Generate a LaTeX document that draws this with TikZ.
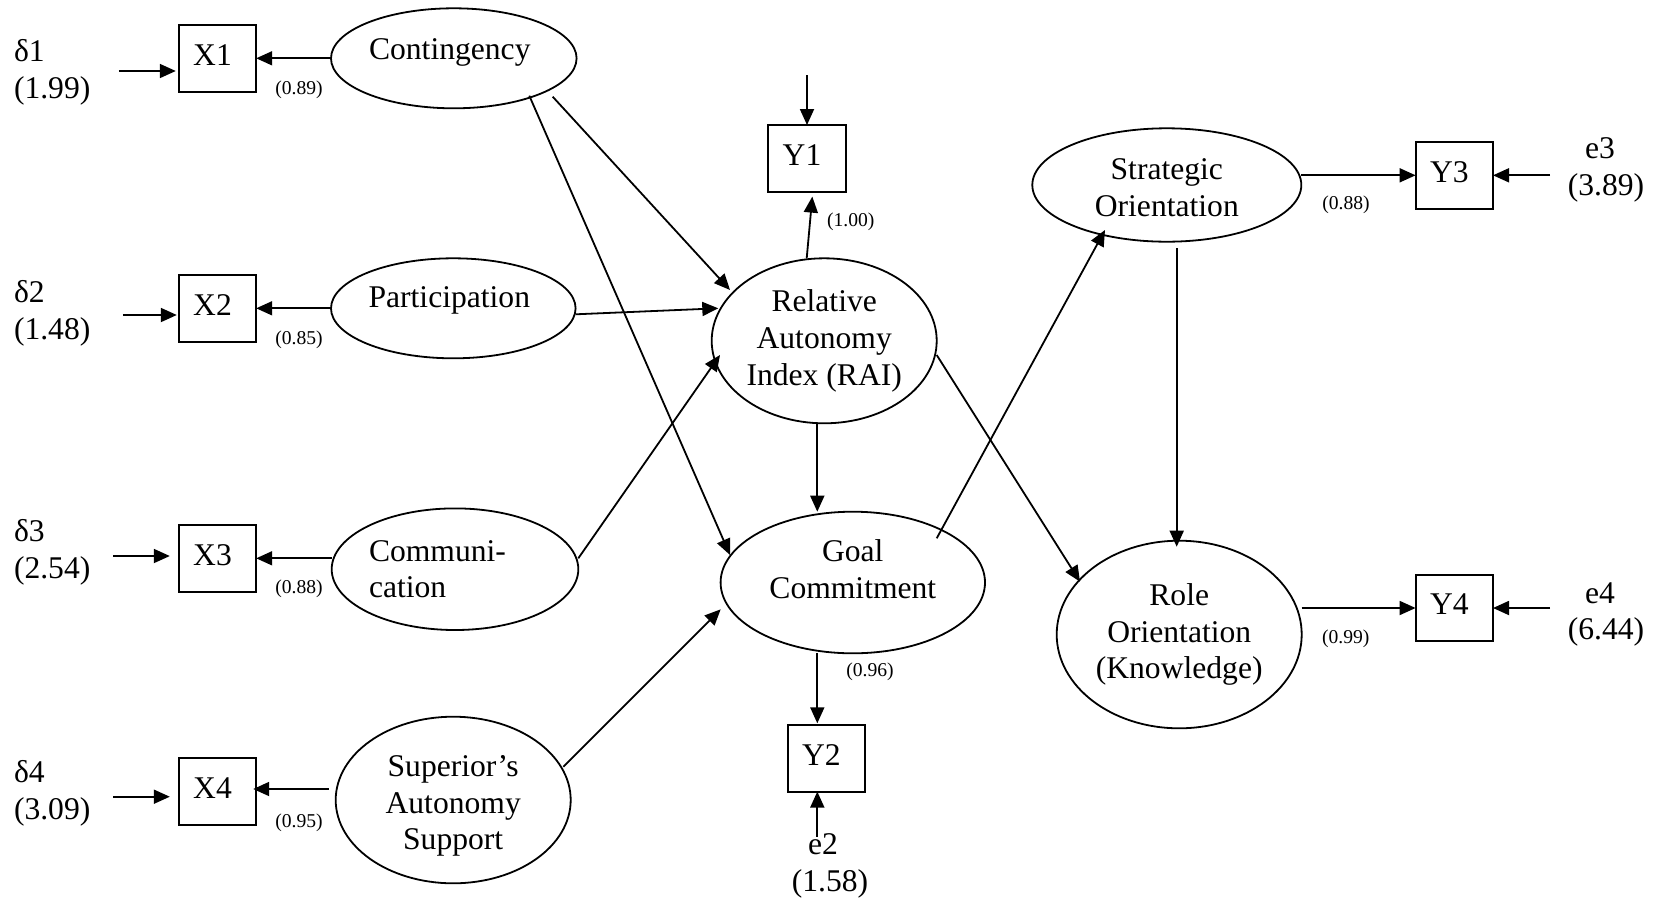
\documentclass[tikz,border=0pt]{standalone}
\usepackage{fontspec}
\setmainfont{Liberation Serif}
\usetikzlibrary{arrows.meta,calc,shapes.geometric}

\begin{document}
\begin{tikzpicture}[x=0.5pt, y=-0.5pt,
  every node/.style={inner sep=0pt, outer sep=0pt},
  txt/.style={font=\fontsize{15.8}{18.4}\selectfont},
  coef/.style={font=\fontsize{9.8}{11}\selectfont},
  obs/.style={draw, line width=0.95pt, minimum width=38.7pt, minimum height=33.3pt,
              txt, text depth=0.35em, execute at end node={\kern5pt}},
  latent/.style 2 args={draw, ellipse, line width=0.9pt,
              minimum width=#1pt, minimum height=#2pt},
  arr/.style={line width=0.9pt, -{Triangle[length=8pt,width=7pt]}},
]
\useasboundingbox (0,0) rectangle (1658,900);

% observed indicators
\node[obs] (x1) at (217.5,58.3)  {X1};
\node[obs] (x2) at (217.5,308.3) {X2};
\node[obs] (x3) at (217.5,558.3) {X3};
\node[obs] (x4) at (217.5,791.7) {X4};
\node[obs] (y1) at (807,158.3)   {Y1};
\node[obs] (y2) at (826.3,758.3) {Y2};
\node[obs] (y3) at (1454.3,175.3) {Y3};
\node[obs] (y4) at (1454.3,608)   {Y4};

% latent constructs
\node[latent={122.8}{50},
      label={[txt,xshift=-2pt,yshift=2.8pt]center:Contingency}] (cont) at (453.8,58.3) {};
\node[latent={122.3}{50},
      label={[txt,xshift=-2pt,yshift=3.85pt]center:Participation}] (part) at (453.3,308.3) {};
\node[latent={123.3}{60.8},
      label={[txt,align=left,xshift=-8.75pt]center:{Communi-\\cation}}] (comm) at (455,569.2) {};
\node[latent={117.5}{83.3},
      label={[txt,align=center,yshift=-3pt]center:{Superior’s\\Autonomy\\Support}}] (sup) at (453.2,800) {};
\node[latent={112.5}{82.5},
      label={[txt,align=center]center:{Relative\\Autonomy\\Index (RAI)}}] (rai) at (824.2,340.8) {};
\node[latent={132.2}{70.8},
      label={[txt,align=center,yshift=6.5pt]center:{Goal\\Commitment}}] (goal) at (852.8,582.5) {};
\node[latent={134.5}{56.7},
      label={[txt,align=center,yshift=-1.5pt]center:{Strategic\\Orientation}}] (strat) at (1166.8,185) {};
\node[latent={122.5}{93.8},
      label={[txt,align=center]center:{Role\\Orientation\\(Knowledge)}}] (role) at (1179.2,634.5) {};

% error terms
\node[txt, align=left, anchor=west] (d1) at (14,72)    {δ1\\(1.99)};
\node[txt, align=left, anchor=west] (d2) at (14,313.6) {δ2\\(1.48)};
\node[txt, align=left, anchor=west] (d3) at (14,552)   {δ3\\(2.54)};
\node[txt, align=left, anchor=west] (d4) at (14,793.6) {δ4\\(3.09)};
\node[txt, align=center] (e2l) at (830,865.5)  {e2\kern7pt\\(1.58)};
\node[txt, align=center] (e3l) at (1606,169.8) {e3\kern6pt\\(3.89)};
\node[txt, align=center] (e4l) at (1606,614.5) {e4\kern6pt\\(6.44)};

% loadings
\node[coef] (c1) at (299,90)       {(0.89)};
\node[coef] (c2) at (299,340)      {(0.85)};
\node[coef] (c3) at (299,588.3)    {(0.88)};
\node[coef] (c4) at (299,822.3)    {(0.95)};
\node[coef] (c5) at (850.7,221.7)  {(1.00)};
\node[coef] (c6) at (870,671.7)    {(0.96)};
\node[coef] (c7) at (1346,205)     {(0.88)};
\node[coef] (c8) at (1345.7,638.3) {(0.99)};

% error arrows into indicators
\draw[arr] ($(x1.west)+(-60,12.7)$) -- ($(x1.west)+(-3,12.7)$);
\draw[arr] ($(x2.west)+(-56,6.7)$)  -- ($(x2.west)+(-2,6.7)$);
\draw[arr] ($(x3.west)+(-65.5,-2.3)$) -- ($(x3.west)+(-9,-2.3)$);
\draw[arr] ($(x4.west)+(-65.5,5)$)  -- ($(x4.west)+(-9,5)$);
\draw[arr] ($(y1.north)+(0,-50)$) -- (y1.north);
\draw[arr] ($(y2.south)+(-9,45)$) -- ($(y2.south)+(-9,0)$);
\draw[arr] ($(y3.east)+(57,0)$) -- (y3.east);
\draw[arr] ($(y4.east)+(57,0)$) -- (y4.east);

% measurement paths
\draw[arr] (cont.west) -- (x1.east);
\draw[arr] (part.west) -- (x2.east);
\draw[arr] (comm.west |- x3) -- (x3.east);
\draw[arr] ($(sup.west |- x4)+(-7,-2.7)$) -- ($(x4.east)+(-3,-2.7)$);
\draw[arr] ($(rai.north)+(-17.5,0)$) -- ($(y1.south)+(5.3,5)$);
\draw[arr] ($(goal.south)+(-35.5,0)$) -- ($(y2.north)+(-9,-1.7)$);
\draw[arr] (strat.east |- y3) -- (y3.west);
\draw[arr] (role.east |- y4) -- (y4.west);

% structural paths
\draw[arr] ($(cont)+(98.9,38.4)$) -- ($(rai)+(-94.2,-50.8)$);
\draw[arr] ($(cont)+(75.5,37.4)$) -- ($(goal)+(-122.8,-27.5)$);
\draw[arr] ($(part.east)+(0,6)$) -- ($(rai)+(-105.9,-32.5)$);
\draw[arr] ($(comm.east)+(0,-10.9)$) -- ($(rai)+(-104.2,14.2)$);
\draw[arr] ($(sup)+(110.1,-33.3)$) -- ($(goal)+(-132.1,26.8)$);
\draw[arr] ($(rai.south)+(-6.9,0)$) -- ($(goal.north)+(-35.5,0)$);
\draw[arr] ($(goal)+(83.9,-44.2)$) -- ($(strat)+(-61.8,45)$);
\draw[arr] ($(rai)+(112.5,14.2)$) -- ($(role)+(-99.2,-52.8)$);
\draw[arr] ($(strat.south)+(9.9,6.6)$) -- ($(role.north)+(-2.5,6)$);

\end{tikzpicture}
\end{document}
